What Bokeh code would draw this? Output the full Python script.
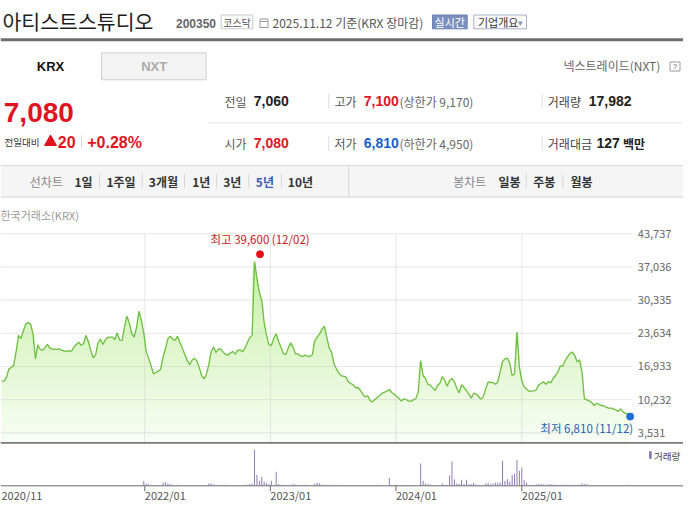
import numpy as np
import pandas as pd
from bokeh.plotting import figure
from bokeh.models import Range1d
from bokeh.core.properties import value
from bokeh.embed import file_html
from bokeh.resources import INLINE

# ------------------------------------------------------------------ data
stock_name = "아티스트스튜디오"
stock_code = "200350"
start_date = "2020-11-11"          # weekly closes, 5 years
prices = [
    13970, 13970, 14780, 16460, 16730, 17200, 19960, 23200, 22590, 24140,
    25490, 25820, 25490, 23470, 18480, 21310, 20370, 20230, 20770, 21380,
    20640, 20430, 20430, 20370, 20500, 20170, 20030, 20030, 20100, 20030,
    20840, 21380, 21850, 21180, 21580, 23200, 21920, 20170, 18680, 19290,
    21710, 22460, 21380, 22250, 22790, 22860, 22860, 22390, 23730, 22250,
    22190, 24880, 27100, 25690, 23600, 22860, 24810, 28050, 26230, 23730,
    19960, 18620, 17130, 15450, 15720, 15990, 16330, 18820, 20500, 22520,
    23060, 22460, 22190, 23060, 21850, 20640, 19420, 18210, 17270, 18140,
    18620, 18080, 16800, 15110, 14440, 15320, 17270, 19960, 20840, 19760,
    20500, 20430, 19830, 19360, 19220, 19690, 19960, 19420, 20170, 20300,
    19900, 20640, 21710, 22720, 23260, 38150, 34650, 31950, 30270, 25760,
    23200, 21310, 21180, 22660, 23530, 21980, 20840, 19490, 19360, 20640,
    21710, 20840, 19490, 19490, 19090, 18950, 19220, 19020, 18950, 19290,
    22120, 22860, 23530, 24410, 25080, 22860, 20640, 19830, 17470, 16460,
    15590, 15050, 14980, 14780, 13830, 13500, 13230, 12620, 12690, 12080,
    11280, 10800, 11010, 10000, 9790, 10260, 10670, 11070, 11540, 11750,
    11880, 12290, 11680, 11340, 10940, 10470, 9930, 10400, 10260, 9930,
    9930, 10200, 10470, 11750, 18140, 15110, 14510, 13300, 13160, 12620,
    12080, 13090, 13560, 14910, 14100, 12960, 14100, 14510, 13830, 12550,
    11610, 13230, 12690, 12080, 11340, 10530, 11540, 11410, 10870, 10330,
    10800, 12420, 13770, 13700, 13700, 13360, 13770, 15790, 17940, 18480,
    18620, 17610, 15110, 15450, 23870, 16800, 14040, 12820, 12350, 11950,
    11950, 12020, 12220, 13230, 13500, 13830, 13360, 13830, 13630, 14510,
    15110, 15790, 17070, 17000, 18140, 18890, 19560, 19830, 19150, 17810,
    18280, 15790, 10400, 10200, 10000, 9660, 9050, 9460, 9320, 9050,
    8990, 8720, 8510, 8510, 8380, 8180, 7840, 8380, 7770, 7500,
    7370, 7080,
]
# weekly volume (thousand shares); index = week number in the price series
vol_week = [59, 60, 61, 62, 67, 68, 69, 70, 71, 73, 74, 86, 87, 88, 90, 93,
            101, 102, 103, 104, 105, 106, 107, 108, 109, 110, 111, 112, 113, 114,
            115, 116, 117, 118, 120, 121, 122, 123, 126, 127, 130, 131, 132, 133,
            134, 136, 138, 141, 156, 161, 162, 164, 167, 174, 175, 176, 177, 178,
            183, 184, 185, 186, 187, 188, 189, 190, 191, 192, 193, 194, 195, 196,
            197, 201, 202, 203, 204, 205, 206, 207, 208, 209, 210, 211, 212, 213,
            214, 215, 216, 217, 218, 219, 220, 222, 223, 224, 225, 226, 227, 228,
            229, 230, 231, 232, 233, 234, 235, 236, 237, 238, 239, 240, 241, 242,
            243, 260]
vol_k = [500, 230, 170, 100, 330, 400, 230, 170, 100, 100, 100, 230, 230, 130, 100, 100,
         100, 100, 170, 230, 3600, 1100, 500, 900, 430, 270, 170, 500, 100, 1400,
         170, 100, 100, 100, 100, 170, 100, 100, 100, 100, 230, 300, 230, 130,
         100, 100, 100, 100, 100, 770, 100, 100, 70, 2230, 500, 230, 170, 130,
         230, 100, 100, 1030, 2430, 630, 230, 170, 600, 170, 600, 170, 170, 300,
         130, 230, 300, 130, 230, 330, 330, 330, 2500, 500, 670, 430, 1070, 1230,
         2600, 1500, 1830, 570, 330, 100, 100, 130, 170, 170, 130, 100, 130, 170,
         130, 100, 100, 100, 100, 100, 100, 100, 100, 100, 100, 100, 230, 170,
         170, 100]
price_ticks = [3531, 10232, 16933, 23634, 30335, 37036, 43737]
year_ticks = ["2022-01-01", "2023-01-01", "2024-01-01", "2025-01-01"]
year_labels = ["2022/01", "2023/01", "2024/01", "2025/01"]
first_label = "2020/11"
high_date, high_val = "2022-12-02", 39600
low_date, low_val = "2025-11-12", 6810

dates = pd.date_range(start_date, periods=len(prices), freq="7D")
vol_dates = dates[vol_week]
year_dates = pd.to_datetime(year_ticks)

# ------------------------------------------------------------------ layout constants (px)
W, H = 683, 503
X0, Y0 = 0, 0
KR = "Noto Sans CJK KR"
LAT = "Liberation Sans"
RED = "#e0141e"
BLUE = "#1a5fc8"

ANCHOR_DAY, ANCHOR_PX = pd.Timestamp("2022-01-01"), 144.3
PX_PER_DAY = (521.3 - 144.3) / 1096.0
TOP_TICK_PX, TICK_STEP_PX = 233.3, 33.17
PX_PER_WON = TICK_STEP_PX / (price_ticks[1] - price_ticks[0])
CHART_BOTTOM_PX = 442.0
VOL_BASE_PX, PX_PER_KVOL = 485.3, 0.01


def date_at(px):
    return ANCHOR_DAY + pd.Timedelta(days=(px - ANCHOR_PX) / PX_PER_DAY)


def price_at(px):
    return price_ticks[-1] - (px - TOP_TICK_PX) / PX_PER_WON


def vol_at(px):
    return (VOL_BASE_PX - px) / PX_PER_KVOL


p = figure(width=W, height=H, x_range=Range1d(X0, X0 + W), y_range=Range1d(Y0 + H, Y0),
           output_backend="svg", toolbar_location=None, min_border=0,
           x_axis_location=None, y_axis_location=None)
p.grid.visible = False
p.outline_line_color = None
p.background_fill_color = "white"
p.border_fill_color = "white"
p.extra_x_ranges = {"date": Range1d(start=date_at(X0), end=date_at(X0 + W))}
p.extra_y_ranges = {"price": Range1d(start=price_at(Y0 + H), end=price_at(Y0)),
                    "vol": Range1d(start=vol_at(Y0 + H), end=vol_at(Y0))}
P_BOT = price_at(CHART_BOTTOM_PX)


def txt(x, y, s, size, color, bold=False, align="left", font=KR, xr="default", yr="default",
        xo=0, yo=0):
    p.text(x=[x], y=[y], text=[s], x_range_name=xr, y_range_name=yr,
           text_font=value(font), text_font_size=f"{size}px", text_color=color,
           text_font_style="bold" if bold else "normal", text_align=align,
           text_baseline="middle", x_offset=xo, y_offset=yo)


def box(l, r, t, b, fill, line=None):
    p.quad(left=[l], right=[r], top=[t], bottom=[b], fill_color=fill,
           line_color=line, line_width=1)


def vline(x, y0, y1, color, w=1):
    p.segment(x0=[x], y0=[y0], x1=[x], y1=[y1], line_color=color, line_width=w)


def hline(y, x0, x1, color, w=1):
    p.segment(x0=[x0], y0=[y], x1=[x1], y1=[y], line_color=color, line_width=w)


RIGHT = X0 + W

# ------------------------------------------------------------------ header
txt(2, 20.5, stock_name, 20.5, "#1e1e1e")
txt(175.5, 22.5, stock_code, 12, "#666", bold=True, font=LAT)
box(220.7, 252.3, 14.5, 28.3, "white", "#c9c9c9")
txt(236.5, 21.5, "코스닥", 10, "#555", align="center")
box(259.5, 267.5, 18.5, 27, "white", "#9a9a9a")
hline(21, 259.5, 267.5, "#9a9a9a")
txt(272, 22, "2025.11.12 기준(KRX 장마감)", 12, "#555")
box(432, 466.7, 14.5, 28.3, "#7b8fbf", "#6d81b2")
txt(449.3, 21.5, "실시간", 11, "white", align="center")
box(473.3, 526, 14.5, 28.3, "#fafafa", "#a6b0c8")
txt(477.5, 21.5, "기업개요", 11, "#333")
txt(520, 21.5, "▾", 9, "#8a94b0", align="center")
box(X0, RIGHT, 37.7, 40.7, "#6f6f6f")

# tabs
box(101, 205.7, 52.3, 79.3, "#f3f3f3", "#cfcfcf")
txt(50, 65.5, "KRX", 13, "#111", bold=True, align="center", font=LAT)
txt(153.7, 65.5, "NXT", 13, "#acacac", bold=True, align="center", font=LAT)
txt(563, 65, "넥스트레이드(NXT)", 12, "#666")
box(669.5, 679.5, 61.5, 70.5, "white", "#9a9a9a")
txt(674.5, 66, "?", 8, "#666", align="center", font=LAT)

# current price block
txt(3.3, 111.5, "7,080", 28, RED, bold=True, font=LAT)
txt(4, 141.5, "전일대비", 9.5, "#333")
p.scatter(x=[50], y=[141.5], marker="triangle", size=12, color=RED)
txt(57.3, 141.5, "20", 16, RED, bold=True, font=LAT)
vline(81, 135, 148, "#d8d8d8")
txt(86.7, 141.5, "+0.28%", 16, RED, bold=True, font=LAT)

# stats table
hline(122.3, 206.7, RIGHT, "#e6e6e6")
for yy in (100.7, 142.7):
    vline(328.3, yy - 7.5, yy + 7.5, "#dcdcdc")
    vline(541.7, yy - 7.5, yy + 7.5, "#dcdcdc")
txt(224, 100.7, "전일", 12, "#555")
txt(253.3, 100.7, "7,060", 14, "#222", bold=True, font=LAT)
txt(334, 100.7, "고가", 12, "#555")
txt(363.3, 100.7, "7,100", 14, RED, bold=True, font=LAT)
txt(399, 100.7, "(상한가 9,170)", 12, "#666")
txt(547.3, 100.7, "거래량", 12, "#444")
txt(588.3, 100.7, "17,982", 14, "#222", bold=True, font=LAT)
txt(224, 142.7, "시가", 12, "#555")
txt(253.3, 142.7, "7,080", 14, RED, bold=True, font=LAT)
txt(334, 142.7, "저가", 12, "#555")
txt(363.3, 142.7, "6,810", 14, BLUE, bold=True, font=LAT)
txt(399, 142.7, "(하한가 4,950)", 12, "#666")
txt(547.3, 142.7, "거래대금", 12, "#444")
txt(596, 142.7, "127", 14, "#222", bold=True, font=LAT)
txt(622.5, 142.7, "백만", 12, "#222", bold=True)

# period nav bar
box(X0, RIGHT, 165, 196.5, "#f5f5f6")
hline(165, X0, RIGHT, "#dadada")
hline(196.5, X0, RIGHT, "#d2d2d2")
vline(348.3, 165, 196.5, "#d6d6d6")
NAV_Y = 180.7
txt(29.3, NAV_Y, "선차트", 12, "#888")
for x, s in [(74, "1일"), (106, "1주일"), (148.3, "3개월"), (191.7, "1년"),
             (222.7, "3년"), (287.3, "10년"), (498, "일봉"), (532.7, "주봉"), (570, "월봉")]:
    txt(x, NAV_Y, s, 12, "#333", bold=True)
txt(255.3, NAV_Y, "5년", 12, "#3a5cb4", bold=True)
txt(452.7, NAV_Y, "봉차트", 12, "#888")
for x in (99, 141.7, 184, 216, 248.3, 281, 525.7, 562.3):
    vline(x, NAV_Y - 7, NAV_Y + 7, "#d8d8d8")

txt(0, 214.3, "한국거래소(KRX)", 11, "#9a9a9a")

# ------------------------------------------------------------------ price chart
prices_arr = np.array(prices, dtype=float)
top_rgb = np.array([192, 237, 156])
bot_rgb = np.array([248, 254, 244])
NB = 32
span = price_ticks[-1] - P_BOT
for i in range(NB):
    lo = P_BOT + span * i / NB
    f = (i + 0.5) / NB
    c = tuple(int(round(v)) for v in bot_rgb + (top_rgb - bot_rgb) * f)
    p.varea(x=dates, y1=lo, y2=np.maximum(prices_arr, lo),
            x_range_name="date", y_range_name="price",
            fill_color="#%02x%02x%02x" % c, fill_alpha=1.0)

p.segment(x0=X0, x1=631.7, y0=price_ticks, y1=price_ticks, y_range_name="price",
          line_color="#c8c8c8", line_alpha=0.45, line_width=1)
p.segment(x0=year_dates, x1=year_dates, y0=price_ticks[-1], y1=P_BOT,
          x_range_name="date", y_range_name="price",
          line_color="#c8c8c8", line_alpha=0.45, line_width=1)
p.line(x=dates, y=prices, x_range_name="date", y_range_name="price",
       line_color="#6cbf3f", line_width=1.3)

p.text(x=[637.3] * len(price_ticks), y=price_ticks, text=[f"{v:,}" for v in price_ticks],
       y_range_name="price", text_font=value(KR), text_font_size="11px",
       text_color="#666", text_align="left", text_baseline="middle")

p.scatter(x=[pd.Timestamp(high_date)], y=[high_val], x_range_name="date",
          y_range_name="price", size=7, color="#e8101a")
txt(pd.Timestamp(high_date), high_val, f"최고 {high_val:,} (12/02)", 11.5, "#c8141c",
    align="center", xr="date", yr="price", yo=-15)
p.scatter(x=[pd.Timestamp(low_date)], y=[low_val], x_range_name="date",
          y_range_name="price", size=7, color="#1f6fd6")
txt(pd.Timestamp(low_date), low_val, f"최저 {low_val:,} (11/12)", 11.5, "#2a5fae",
    align="right", xr="date", yr="price", xo=3, yo=11)

# ------------------------------------------------------------------ volume panel
box(X0, RIGHT, 441.5, 443.2, "#7a7a7a")
hline(VOL_BASE_PX, X0, RIGHT, "#6a6a6a")
p.segment(x0=vol_dates, x1=vol_dates, y0=0, y1=vol_k, x_range_name="date",
          y_range_name="vol", line_color="#8a7db6", line_width=1)
box(648.5, 651.2, 450.7, 458.3, "#8a7db6")
txt(653.5, 455, "거래량", 9.5, "#444")

p.segment(x0=year_dates, x1=year_dates, y0=VOL_BASE_PX, y1=VOL_BASE_PX + 5.5,
          x_range_name="date", line_color="#6a6a6a", line_width=1)
p.text(x=year_dates, y=[494.8] * len(year_dates), text=year_labels, x_range_name="date",
       text_font=value(KR), text_font_size="11px", text_color="#555",
       text_align="left", text_baseline="middle")
txt(1, 494.8, first_label, 11, "#555")

open("out.html", "w").write(file_html(p, INLINE))
